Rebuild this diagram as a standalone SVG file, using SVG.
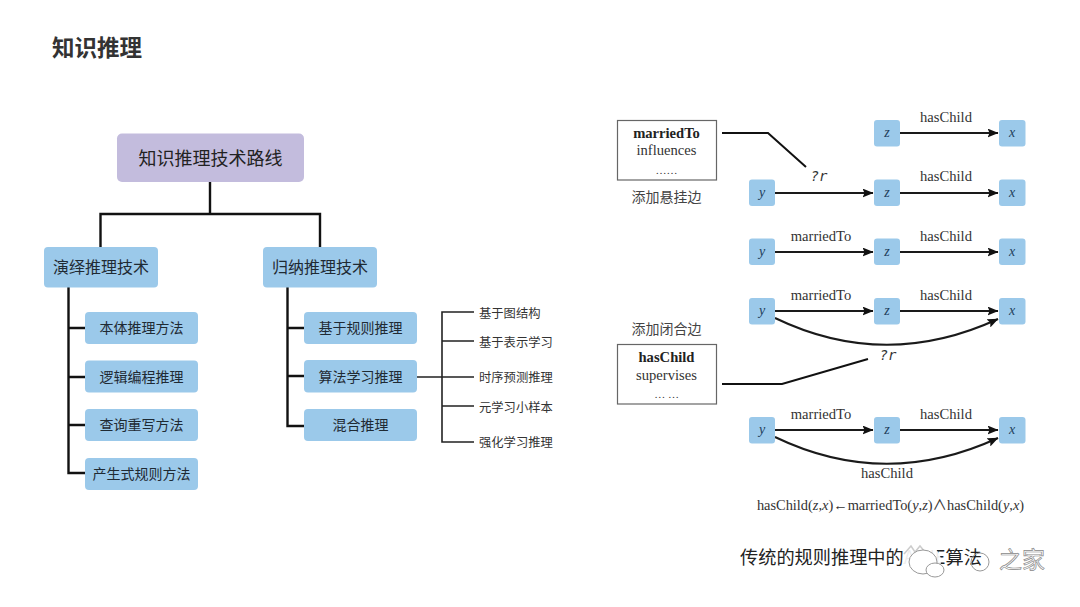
<svg xmlns="http://www.w3.org/2000/svg" width="1080" height="607" viewBox="0 0 1080 607">
<style>
text{font-family:"Noto Sans CJK SC","Liberation Serif",sans-serif;fill:#2a2a2a;text-anchor:middle}
.lat{font-family:"Liberation Serif","Noto Sans CJK SC",serif;fill:#333}
.it{font-style:italic}
.root{fill:#c3bcdd}
.box{fill:#9bc9ea}
.n2{font-size:16px;fill:#1f2a33}
.n3{font-size:14px;fill:#1f2a33}
.leaf{font-size:12.300px;text-anchor:start;fill:#333}
.cap{font-size:14px;fill:#444}
.edge{font-size:14.600px}
.var{font-size:14px;fill:#1f3f5c}
.c{fill:none;stroke:#111;stroke-width:2.400}
.t{fill:none;stroke:#222;stroke-width:1.600}
.a{fill:none;stroke:#1a1a1a;stroke-width:2;marker-end:url(#ah)}
.lb{fill:#fff;stroke:#666;stroke-width:1.200}
</style>
<defs>
<marker id="ah" markerUnits="userSpaceOnUse" markerWidth="11" markerHeight="9" refX="10.500" refY="4.500" orient="auto"><path d="M0 0L11 4.500L0 9L2 4.500Z" fill="#111"/></marker>
</defs>
<rect width="1080" height="607" fill="#fff"/>
<text id="title" x="97" y="56" style="font-size:22.500px;font-weight:700;fill:#333">知识推理</text>

<g id="connectors">
<path class="c" d="M210 181V214M100.500 247V214H320V247"/>
<path class="c" d="M68.500 287V473H85M68.500 328H85M68.500 377H85M68.500 425H85"/>
<path class="c" d="M287.500 287V426H304M287.500 328H304M287.500 376H304"/>
<path class="t" d="M417 377H474M474 312H442V442H474M442 341H474M442 406H474"/>
<path class="c" style="stroke-width:2" d="M722 133H768L806 167"/>
<path class="c" style="stroke-width:2" d="M722 384H782L868 359"/>
<path class="a" d="M775 193H873"/><path class="a" d="M900 193H998"/>
<path class="a" d="M900 133H998"/>
<path class="a" d="M775 252H873"/><path class="a" d="M900 252H998"/>
<path class="a" d="M775 311H873"/><path class="a" d="M900 311H998"/>
<path class="a" d="M775 318Q885 371 998 319"/>
<path class="a" d="M775 430H873"/><path class="a" d="M900 430H998"/>
<path class="a" d="M775 437Q885 490 998 438"/>
</g>

<g id="root"><rect class="root" x="117" y="133.500" width="187" height="48.500" rx="5"/><text x="210.500" y="165" style="font-size:18px;fill:#222">知识推理技术路线</text></g>
<g id="deductive"><rect class="box" x="44" y="247" width="114" height="40.500" rx="4"/><text class="n2" x="101" y="273">演绎推理技术</text></g>
<g id="inductive"><rect class="box" x="263" y="247" width="114" height="40.500" rx="4"/><text class="n2" x="320" y="273">归纳推理技术</text></g>
<g id="d1"><rect class="box" x="85" y="312" width="113" height="32" rx="4"/><text class="n3" x="141.500" y="333">本体推理方法</text></g>
<g id="d2"><rect class="box" x="85" y="360.500" width="113" height="32" rx="4"/><text class="n3" x="141.500" y="382">逻辑编程推理</text></g>
<g id="d3"><rect class="box" x="85" y="409" width="113" height="32" rx="4"/><text class="n3" x="141.500" y="430">查询重写方法</text></g>
<g id="d4"><rect class="box" x="85" y="458" width="113" height="32" rx="4"/><text class="n3" x="141.500" y="479">产生式规则方法</text></g>
<g id="i1"><rect class="box" x="304" y="312" width="113" height="32" rx="4"/><text class="n3" x="360.500" y="333">基于规则推理</text></g>
<g id="i2"><rect class="box" x="304" y="360" width="113" height="32.500" rx="4"/><text class="n3" x="360.500" y="382">算法学习推理</text></g>
<g id="i3"><rect class="box" x="304" y="409" width="113" height="32" rx="4"/><text class="n3" x="360.500" y="430">混合推理</text></g>
<g id="leaves">
<text class="leaf" x="479" y="318">基于图结构</text>
<text class="leaf" x="479" y="347">基于表示学习</text>
<text class="leaf" x="479" y="382">时序预测推理</text>
<text class="leaf" x="479" y="412">元学习小样本</text>
<text class="leaf" x="479" y="447">强化学习推理</text>
</g>

<g id="cand1"><rect class="lb" x="617.500" y="120.500" width="99" height="59.500"/>
<text class="lat" x="666.500" y="138" style="font-size:14.600px;font-weight:700;fill:#222">marriedTo</text>
<text class="lat" x="666.500" y="155" style="font-size:14.600px">influences</text>
<text class="lat" x="666.500" y="174" style="font-size:11px">……</text></g>
<text id="cap1" class="cap" x="666.500" y="202">添加悬挂边</text>
<text id="cap2" class="cap" x="666.500" y="334">添加闭合边</text>
<g id="cand2"><rect class="lb" x="617.500" y="344.500" width="99" height="59.500"/>
<text class="lat" x="666.500" y="362" style="font-size:14.600px;font-weight:700;fill:#222">hasChild</text>
<text class="lat" x="666.500" y="380" style="font-size:14.600px">supervises</text>
<text class="lat" x="666.500" y="398" style="font-size:11px">… …</text></g>

<g id="r1z"><rect class="box" x="874" y="120" width="26" height="26.500" rx="3"/><text class="lat it var" x="887" y="137">z</text></g>
<g id="r1x"><rect class="box" x="999" y="120" width="26.500" height="26.500" rx="3"/><text class="lat it var" x="1012" y="137">x</text></g>
<g id="r2y"><rect class="box" x="749" y="179.500" width="26" height="26.500" rx="3"/><text class="lat it var" x="762" y="197">y</text></g>
<g id="r2z"><rect class="box" x="874" y="179.500" width="26" height="26.500" rx="3"/><text class="lat it var" x="887" y="197">z</text></g>
<g id="r2x"><rect class="box" x="999" y="179.500" width="26.500" height="26.500" rx="3"/><text class="lat it var" x="1012" y="197">x</text></g>
<g id="r3y"><rect class="box" x="749" y="238.500" width="26" height="26.500" rx="3"/><text class="lat it var" x="762" y="256">y</text></g>
<g id="r3z"><rect class="box" x="874" y="238.500" width="26" height="26.500" rx="3"/><text class="lat it var" x="887" y="256">z</text></g>
<g id="r3x"><rect class="box" x="999" y="238.500" width="26.500" height="26.500" rx="3"/><text class="lat it var" x="1012" y="256">x</text></g>
<g id="r4y"><rect class="box" x="749" y="298" width="26" height="26.500" rx="3"/><text class="lat it var" x="762" y="315">y</text></g>
<g id="r4z"><rect class="box" x="874" y="298" width="26" height="26.500" rx="3"/><text class="lat it var" x="887" y="315">z</text></g>
<g id="r4x"><rect class="box" x="999" y="298" width="26.500" height="26.500" rx="3"/><text class="lat it var" x="1012" y="315">x</text></g>
<g id="r5y"><rect class="box" x="749" y="417" width="26" height="26.500" rx="3"/><text class="lat it var" x="762" y="434">y</text></g>
<g id="r5z"><rect class="box" x="874" y="417" width="26" height="26.500" rx="3"/><text class="lat it var" x="887" y="434">z</text></g>
<g id="r5x"><rect class="box" x="999" y="417" width="26.500" height="26.500" rx="3"/><text class="lat it var" x="1012" y="434">x</text></g>

<g id="labels">
<text class="lat edge" x="946" y="122">hasChild</text>
<text class="lat edge" x="946" y="181">hasChild</text>
<text class="lat edge" x="946" y="241">hasChild</text>
<text class="lat edge" x="946" y="300">hasChild</text>
<text class="lat edge" x="946" y="419">hasChild</text>
<text class="lat edge" x="821" y="241">marriedTo</text>
<text class="lat edge" x="821" y="300">marriedTo</text>
<text class="lat edge" x="821" y="419">marriedTo</text>
<text class="lat edge" x="887" y="478">hasChild</text>
<text class="it" x="819" y="181" style="font-family:'DejaVu Sans Mono','Liberation Mono',monospace;font-size:14px;fill:#333">?r</text>
<text class="it" x="888" y="360" style="font-family:'DejaVu Sans Mono','Liberation Mono',monospace;font-size:14px;fill:#333">?r</text>
<text class="lat" x="890.500" y="510" style="font-size:14.400px">hasChild(<tspan class="it">z</tspan>,<tspan class="it">x</tspan>)←marriedTo(<tspan class="it">y</tspan>,<tspan class="it">z</tspan>)∧hasChild(<tspan class="it">y</tspan>,<tspan class="it">x</tspan>)</text>
</g>

<text id="caption" x="740" y="564" style="font-size:18.200px;text-anchor:start;fill:#222">传统的规则推理中的AMIE算法</text>
<g id="watermark">
<ellipse cx="922" cy="561" rx="19" ry="17" fill="#fff" fill-opacity=".92"/>
<path d="M904 554L911 546L915 552L920 546L925 552" fill="none" stroke="#ccc" stroke-width="1.500"/>
<ellipse cx="923" cy="562" rx="14" ry="12" fill="#fff" stroke="#999" stroke-width="1"/>
<ellipse cx="935" cy="570" rx="9" ry="7" fill="#fff" stroke="#999" stroke-width="1"/>
<circle cx="980" cy="562" r="9" fill="none" stroke="#999" stroke-width="1"/>
<text x="1022" y="568" style="font-size:23px;fill:#fff;stroke:#888;stroke-width:.7">之家</text>
</g>
</svg>
